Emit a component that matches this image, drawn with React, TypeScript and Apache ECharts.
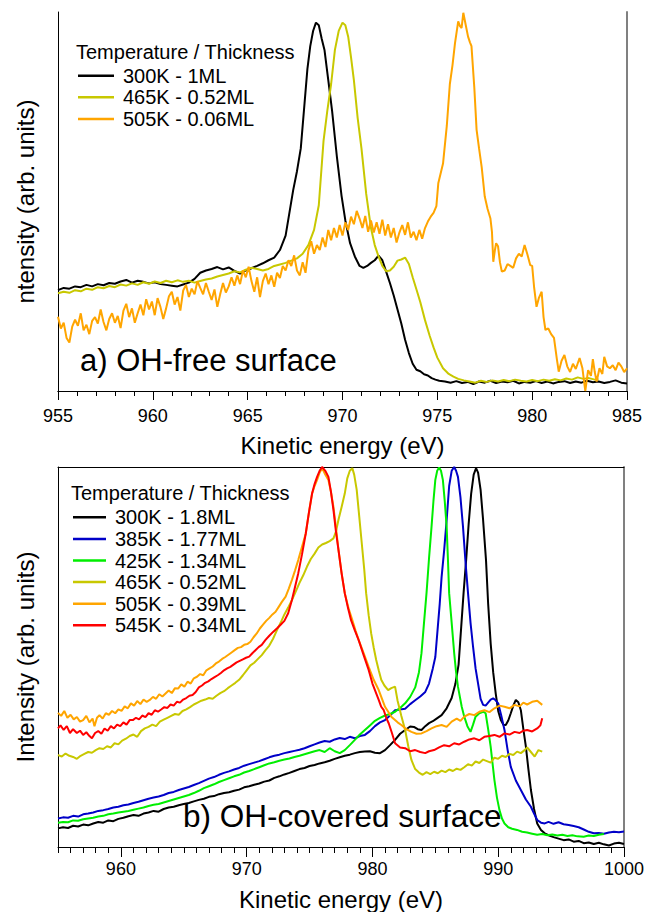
import React, { useEffect, useRef } from "react";
import * as echarts from "echarts";

// ---------- Panel a) OH-free surface ----------
const topTicks = [955, 960, 965, 970, 975, 980, 985];
const topNames = ["300K - 1ML", "465K - 0.52ML", "505K - 0.06ML"];

const a300: number[][] = [
  [955.0, 0.266], [955.3, 0.272], [955.6, 0.27], [955.9, 0.276], [956.2, 0.274], [956.5, 0.28], [956.8, 0.276],
  [957.1, 0.282], [957.4, 0.279], [957.7, 0.285], [958.0, 0.283], [958.3, 0.289], [958.6, 0.293], [958.9, 0.286],
  [959.2, 0.291], [959.5, 0.288], [959.8, 0.284], [960.1, 0.287], [960.4, 0.282], [960.7, 0.28], [961.0, 0.278],
  [961.3, 0.276], [961.6, 0.281], [961.9, 0.286], [962.2, 0.296], [962.5, 0.312], [962.8, 0.318], [963.1, 0.322],
  [963.4, 0.327], [963.7, 0.321], [964.0, 0.326], [964.3, 0.317], [964.6, 0.31], [964.9, 0.318], [965.2, 0.324],
  [965.5, 0.33], [965.8, 0.337], [966.1, 0.345], [966.4, 0.352], [966.7, 0.372], [967.0, 0.41], [967.2, 0.47],
  [967.4, 0.53], [967.6, 0.58], [967.8, 0.64], [968.0, 0.76], [968.15, 0.85], [968.3, 0.91], [968.45, 0.95],
  [968.6, 0.972], [968.75, 0.965], [968.9, 0.93], [969.05, 0.9], [969.25, 0.82], [969.45, 0.74], [969.7, 0.62],
  [969.95, 0.515], [970.15, 0.45], [970.4, 0.39], [970.65, 0.355], [970.9, 0.33], [971.1, 0.325], [971.3, 0.33],
  [971.5, 0.338], [971.7, 0.345], [971.9, 0.357], [972.1, 0.345], [972.3, 0.315], [972.5, 0.285], [972.7, 0.252],
  [972.9, 0.215], [973.1, 0.178], [973.3, 0.135], [973.5, 0.1], [973.7, 0.072], [973.9, 0.056], [974.1, 0.052],
  [974.3, 0.044], [974.5, 0.041], [974.7, 0.034], [974.9, 0.03], [975.1, 0.027], [975.4, 0.025], [975.7, 0.022],
  [976.0, 0.026], [976.3, 0.021], [976.6, 0.024], [976.9, 0.018], [977.2, 0.025], [977.5, 0.022], [977.8, 0.027],
  [978.1, 0.021], [978.4, 0.025], [978.7, 0.023], [979.0, 0.027], [979.3, 0.02], [979.6, 0.024], [979.9, 0.022],
  [980.2, 0.026], [980.5, 0.021], [980.8, 0.025], [981.1, 0.02], [981.4, 0.024], [981.7, 0.026], [982.0, 0.021],
  [982.3, 0.025], [982.6, 0.022], [982.9, 0.027], [983.2, 0.023], [983.5, 0.025], [983.8, 0.021], [984.1, 0.024],
  [984.4, 0.028], [984.7, 0.022], [985.0, 0.02]
];

const a465: number[][] = [
  [955.0, 0.258], [955.3, 0.262], [955.6, 0.259], [955.9, 0.266], [956.2, 0.263], [956.5, 0.27], [956.8, 0.267],
  [957.1, 0.274], [957.4, 0.271], [957.7, 0.277], [958.0, 0.274], [958.3, 0.281], [958.6, 0.278], [958.9, 0.284],
  [959.2, 0.28], [959.5, 0.287], [959.8, 0.283], [960.1, 0.289], [960.4, 0.285], [960.7, 0.291], [961.0, 0.287],
  [961.3, 0.292], [961.6, 0.288], [961.9, 0.291], [962.2, 0.286], [962.5, 0.29], [962.8, 0.294], [963.1, 0.297],
  [963.4, 0.302], [963.7, 0.306], [964.0, 0.31], [964.3, 0.316], [964.6, 0.313], [964.9, 0.32], [965.2, 0.325],
  [965.5, 0.322], [965.8, 0.318], [966.1, 0.322], [966.4, 0.33], [966.7, 0.334], [967.0, 0.338], [967.3, 0.344],
  [967.6, 0.35], [967.9, 0.362], [968.2, 0.385], [968.5, 0.425], [968.75, 0.49], [969.0, 0.66], [969.2, 0.74],
  [969.4, 0.81], [969.6, 0.9], [969.8, 0.95], [970.0, 0.972], [970.15, 0.965], [970.3, 0.935], [970.45, 0.88],
  [970.6, 0.82], [970.8, 0.72], [971.0, 0.64], [971.25, 0.52], [971.5, 0.43], [971.7, 0.385], [971.9, 0.355],
  [972.1, 0.33], [972.3, 0.316], [972.5, 0.318], [972.7, 0.328], [972.9, 0.344], [973.1, 0.347], [973.3, 0.352],
  [973.5, 0.335], [973.7, 0.3], [973.9, 0.268], [974.1, 0.235], [974.35, 0.187], [974.6, 0.145], [974.8, 0.115],
  [975.0, 0.088], [975.3, 0.06], [975.6, 0.045], [975.85, 0.038], [976.1, 0.032], [976.4, 0.028], [976.7, 0.025],
  [977.0, 0.022], [977.3, 0.027], [977.6, 0.024], [977.9, 0.028], [978.2, 0.025], [978.5, 0.029], [978.8, 0.026],
  [979.1, 0.03], [979.4, 0.027], [979.7, 0.025], [980.0, 0.029], [980.3, 0.026], [980.6, 0.03], [980.9, 0.027],
  [981.2, 0.031], [981.5, 0.028], [981.8, 0.033], [982.1, 0.03], [982.4, 0.036], [982.7, 0.032], [983.0, 0.034],
  [983.3, 0.03], [983.5, 0.031]
];

const a505: number[][] = [
  [955.0, 0.196], [955.15, 0.165], [955.3, 0.18], [955.45, 0.14], [955.6, 0.128], [955.75, 0.17], [955.9, 0.188],
  [956.05, 0.172], [956.2, 0.205], [956.35, 0.16], [956.5, 0.175], [956.65, 0.15], [956.8, 0.185], [956.95, 0.195],
  [957.1, 0.178], [957.25, 0.215], [957.4, 0.182], [957.55, 0.16], [957.7, 0.19], [957.85, 0.205], [958.0, 0.18],
  [958.15, 0.198], [958.3, 0.166], [958.45, 0.212], [958.6, 0.23], [958.75, 0.195], [958.9, 0.218], [959.05, 0.18],
  [959.2, 0.205], [959.35, 0.228], [959.5, 0.2], [959.65, 0.242], [959.8, 0.215], [959.95, 0.236], [960.1, 0.2],
  [960.25, 0.245], [960.4, 0.222], [960.55, 0.19], [960.7, 0.218], [960.85, 0.25], [961.0, 0.262], [961.15, 0.228],
  [961.3, 0.248], [961.45, 0.212], [961.6, 0.265], [961.75, 0.28], [961.9, 0.248], [962.05, 0.27], [962.2, 0.255],
  [962.35, 0.29], [962.5, 0.272], [962.65, 0.255], [962.8, 0.285], [962.95, 0.262], [963.1, 0.24], [963.25, 0.268],
  [963.4, 0.222], [963.55, 0.255], [963.7, 0.285], [963.85, 0.26], [964.0, 0.276], [964.15, 0.3], [964.3, 0.278],
  [964.45, 0.305], [964.6, 0.282], [964.75, 0.318], [964.9, 0.3], [965.05, 0.328], [965.2, 0.29], [965.35, 0.262],
  [965.5, 0.3], [965.65, 0.248], [965.8, 0.29], [965.95, 0.31], [966.1, 0.282], [966.25, 0.305], [966.4, 0.275],
  [966.55, 0.312], [966.7, 0.298], [966.85, 0.33], [967.0, 0.318], [967.15, 0.345], [967.3, 0.33], [967.45, 0.358],
  [967.6, 0.318], [967.75, 0.305], [967.9, 0.34], [968.05, 0.312], [968.2, 0.37], [968.35, 0.395], [968.5, 0.362],
  [968.65, 0.385], [968.8, 0.372], [968.95, 0.405], [969.1, 0.38], [969.25, 0.425], [969.4, 0.398], [969.55, 0.43],
  [969.7, 0.405], [969.85, 0.438], [970.0, 0.41], [970.15, 0.445], [970.3, 0.425], [970.45, 0.46], [970.6, 0.44],
  [970.75, 0.475], [970.9, 0.455], [971.05, 0.43], [971.2, 0.462], [971.35, 0.42], [971.5, 0.45], [971.65, 0.418],
  [971.8, 0.445], [971.95, 0.415], [972.1, 0.452], [972.25, 0.41], [972.4, 0.44], [972.55, 0.405], [972.7, 0.43],
  [972.85, 0.392], [973.0, 0.418], [973.15, 0.438], [973.3, 0.412], [973.45, 0.445], [973.6, 0.405], [973.75, 0.42],
  [973.9, 0.398], [974.05, 0.425], [974.2, 0.402], [974.35, 0.43], [974.5, 0.447], [974.65, 0.46], [974.8, 0.47],
  [974.95, 0.488], [975.05, 0.548], [975.3, 0.6], [975.5, 0.7], [975.66, 0.81], [975.8, 0.86], [975.93, 0.917],
  [976.1, 0.975], [976.2, 0.962], [976.28, 0.958], [976.37, 0.998], [976.5, 0.965], [976.62, 0.935], [976.72, 0.92],
  [976.8, 0.91], [976.95, 0.8], [977.07, 0.689], [977.2, 0.64], [977.34, 0.59], [977.5, 0.513], [977.65, 0.48],
  [977.8, 0.455], [977.88, 0.42], [977.95, 0.341], [978.03, 0.37], [978.1, 0.39], [978.2, 0.382], [978.3, 0.34],
  [978.4, 0.315], [978.55, 0.318], [978.7, 0.335], [978.85, 0.33], [979.0, 0.325], [979.15, 0.35], [979.3, 0.362],
  [979.45, 0.355], [979.6, 0.385], [979.75, 0.36], [979.9, 0.332], [980.0, 0.33], [980.1, 0.275], [980.23, 0.222],
  [980.35, 0.245], [980.5, 0.262], [980.6, 0.195], [980.7, 0.161], [980.85, 0.165], [981.0, 0.15], [981.15, 0.14],
  [981.3, 0.085], [981.4, 0.051], [981.55, 0.08], [981.7, 0.095], [981.85, 0.065], [982.0, 0.05], [982.15, 0.072],
  [982.3, 0.058], [982.5, 0.087], [982.65, 0.06], [982.8, 0.0], [982.95, 0.055], [983.1, 0.04], [983.2, 0.084],
  [983.3, 0.05], [983.4, 0.025], [983.55, 0.06], [983.7, 0.045], [983.8, 0.09], [983.95, 0.065], [984.1, 0.06],
  [984.25, 0.068], [984.4, 0.055], [984.55, 0.075], [984.7, 0.065], [984.85, 0.05], [985.0, 0.06]
];

// ---------- Panel b) OH-covered surface ----------
const bottomLabelTicks = [960, 970, 980, 990, 1000];
const bottomNames = ["300K - 1.8ML", "385K - 1.77ML", "425K - 1.34ML", "465K - 0.52ML", "505K - 0.39ML", "545K - 0.34ML"];

const b300: number[][] = [
  [955.0, 0.049], [955.4, 0.052], [955.8, 0.05], [956.2, 0.056], [956.6, 0.054], [957.0, 0.059], [957.4, 0.057],
  [957.8, 0.062], [958.2, 0.066], [958.6, 0.064], [959.0, 0.07], [959.4, 0.068], [959.8, 0.074], [960.2, 0.077],
  [960.6, 0.081], [961.0, 0.084], [961.4, 0.082], [961.8, 0.088], [962.2, 0.091], [962.6, 0.095], [963.0, 0.093],
  [963.4, 0.1], [963.8, 0.104], [964.2, 0.106], [964.6, 0.11], [965.0, 0.113], [965.4, 0.116], [965.8, 0.12],
  [966.2, 0.124], [966.6, 0.127], [967.0, 0.132], [967.4, 0.134], [967.8, 0.139], [968.2, 0.142], [968.6, 0.144],
  [969.0, 0.148], [969.4, 0.151], [969.8, 0.157], [970.2, 0.16], [970.6, 0.164], [971.0, 0.167], [971.4, 0.172],
  [971.8, 0.175], [972.2, 0.182], [972.6, 0.186], [973.0, 0.191], [973.4, 0.195], [973.8, 0.2], [974.2, 0.205],
  [974.6, 0.208], [975.0, 0.213], [975.4, 0.216], [975.8, 0.22], [976.2, 0.223], [976.6, 0.227], [977.0, 0.232],
  [977.4, 0.236], [977.8, 0.24], [978.2, 0.243], [978.6, 0.247], [979.0, 0.25], [979.4, 0.251], [979.8, 0.252],
  [980.2, 0.248], [980.6, 0.247], [981.0, 0.255], [981.4, 0.268], [981.8, 0.282], [982.2, 0.298], [982.6, 0.308],
  [983.0, 0.317], [983.3, 0.316], [983.6, 0.31], [983.9, 0.308], [984.2, 0.318], [984.5, 0.326], [984.8, 0.331],
  [985.1, 0.338], [985.5, 0.347], [985.9, 0.365], [986.3, 0.392], [986.6, 0.43], [986.85, 0.48], [987.06, 0.58],
  [987.25, 0.67], [987.45, 0.755], [987.65, 0.85], [987.85, 0.93], [988.05, 0.98], [988.24, 0.997], [988.4, 0.985],
  [988.6, 0.94], [988.8, 0.86], [989.03, 0.755], [989.2, 0.64], [989.4, 0.536], [989.6, 0.46], [989.8, 0.404],
  [990.0, 0.358], [990.2, 0.335], [990.4, 0.322], [990.6, 0.321], [990.8, 0.333], [991.0, 0.352], [991.2, 0.372],
  [991.4, 0.387], [991.6, 0.381], [991.8, 0.36], [992.0, 0.31], [992.2, 0.264], [992.4, 0.205], [992.6, 0.15],
  [992.85, 0.1], [993.1, 0.062], [993.4, 0.045], [993.7, 0.036], [994.0, 0.031], [994.4, 0.026], [994.8, 0.022],
  [995.2, 0.018], [995.6, 0.02], [996.0, 0.014], [996.4, 0.016], [996.8, 0.01], [997.2, 0.012], [997.6, 0.008],
  [998.0, 0.011], [998.4, 0.007], [998.8, 0.004], [999.2, 0.009], [999.6, 0.011], [1000.0, 0.008]
];

const b385: number[][] = [
  [955.0, 0.075], [955.4, 0.078], [955.8, 0.077], [956.2, 0.082], [956.6, 0.08], [957.0, 0.086], [957.4, 0.088],
  [957.8, 0.091], [958.2, 0.095], [958.6, 0.097], [959.0, 0.1], [959.4, 0.104], [959.8, 0.106], [960.2, 0.11],
  [960.6, 0.112], [961.0, 0.116], [961.4, 0.119], [961.8, 0.123], [962.2, 0.127], [962.6, 0.13], [963.0, 0.133],
  [963.4, 0.137], [963.8, 0.142], [964.2, 0.145], [964.6, 0.15], [965.0, 0.154], [965.4, 0.158], [965.8, 0.163],
  [966.2, 0.168], [966.6, 0.174], [967.0, 0.18], [967.4, 0.184], [967.8, 0.19], [968.2, 0.195], [968.6, 0.199],
  [969.0, 0.204], [969.4, 0.208], [969.8, 0.214], [970.2, 0.218], [970.6, 0.222], [971.0, 0.226], [971.4, 0.231],
  [971.8, 0.236], [972.2, 0.24], [972.6, 0.243], [973.0, 0.247], [973.4, 0.25], [973.8, 0.253], [974.2, 0.256],
  [974.6, 0.26], [975.0, 0.265], [975.4, 0.27], [975.8, 0.275], [976.2, 0.279], [976.6, 0.277], [977.0, 0.283],
  [977.4, 0.287], [977.8, 0.284], [978.2, 0.29], [978.6, 0.286], [979.0, 0.292], [979.4, 0.295], [979.8, 0.305],
  [980.2, 0.318], [980.6, 0.328], [981.0, 0.334], [981.4, 0.346], [981.8, 0.36], [982.2, 0.362], [982.6, 0.364],
  [983.0, 0.376], [983.4, 0.386], [983.8, 0.396], [984.2, 0.408], [984.5, 0.43], [984.8, 0.47], [985.0, 0.5],
  [985.2, 0.58], [985.35, 0.64], [985.5, 0.711], [985.7, 0.78], [985.9, 0.86], [986.1, 0.95], [986.3, 0.99],
  [986.5, 1.0], [986.65, 0.99], [986.8, 0.974], [987.0, 0.92], [987.2, 0.843], [987.4, 0.75], [987.6, 0.668],
  [987.8, 0.59], [988.0, 0.527], [988.2, 0.47], [988.4, 0.43], [988.6, 0.39], [988.8, 0.374], [989.0, 0.372],
  [989.2, 0.38], [989.4, 0.388], [989.6, 0.391], [989.8, 0.386], [990.0, 0.378], [990.25, 0.345], [990.5, 0.308],
  [990.75, 0.255], [991.0, 0.211], [991.4, 0.175], [991.8, 0.15], [992.2, 0.125], [992.6, 0.106], [992.85, 0.088],
  [993.1, 0.071], [993.4, 0.064], [993.7, 0.062], [994.0, 0.066], [994.4, 0.061], [994.8, 0.065], [995.2, 0.06],
  [995.6, 0.058], [996.0, 0.055], [996.4, 0.052], [996.8, 0.046], [997.2, 0.04], [997.6, 0.036], [998.0, 0.037],
  [998.4, 0.035], [998.8, 0.038], [999.2, 0.04], [999.6, 0.039], [1000.0, 0.041]
];

const b425: number[][] = [
  [955.0, 0.064], [955.4, 0.066], [955.8, 0.065], [956.2, 0.07], [956.6, 0.069], [957.0, 0.073], [957.4, 0.075],
  [957.8, 0.077], [958.2, 0.08], [958.6, 0.082], [959.0, 0.086], [959.4, 0.088], [959.8, 0.091], [960.2, 0.093],
  [960.6, 0.095], [961.0, 0.098], [961.4, 0.101], [961.8, 0.104], [962.2, 0.108], [962.6, 0.111], [963.0, 0.113],
  [963.4, 0.117], [963.8, 0.121], [964.2, 0.125], [964.6, 0.129], [965.0, 0.133], [965.4, 0.137], [965.8, 0.142],
  [966.2, 0.148], [966.6, 0.155], [967.0, 0.16], [967.4, 0.165], [967.8, 0.171], [968.2, 0.176], [968.6, 0.181],
  [969.0, 0.186], [969.4, 0.19], [969.8, 0.196], [970.2, 0.2], [970.6, 0.205], [971.0, 0.21], [971.4, 0.215],
  [971.8, 0.22], [972.2, 0.223], [972.6, 0.227], [973.0, 0.23], [973.4, 0.233], [973.8, 0.237], [974.2, 0.24],
  [974.6, 0.244], [975.0, 0.248], [975.4, 0.252], [975.8, 0.255], [976.2, 0.25], [976.6, 0.26], [977.0, 0.252],
  [977.4, 0.247], [977.8, 0.255], [978.2, 0.268], [978.6, 0.282], [979.0, 0.296], [979.4, 0.308], [979.8, 0.32],
  [980.2, 0.332], [980.6, 0.34], [981.0, 0.346], [981.4, 0.35], [981.8, 0.356], [982.2, 0.366], [982.6, 0.378],
  [983.0, 0.395], [983.4, 0.42], [983.7, 0.46], [983.9, 0.51], [984.1, 0.59], [984.3, 0.668], [984.5, 0.76],
  [984.7, 0.843], [984.85, 0.91], [985.0, 0.966], [985.15, 0.99], [985.3, 0.999], [985.45, 0.99], [985.6, 0.966],
  [985.75, 0.91], [985.9, 0.843], [986.0, 0.76], [986.1, 0.668], [986.3, 0.59], [986.5, 0.51], [986.65, 0.46],
  [986.8, 0.422], [987.1, 0.369], [987.3, 0.343], [987.55, 0.318], [987.8, 0.303], [988.0, 0.322], [988.2, 0.343],
  [988.5, 0.352], [988.8, 0.356], [989.0, 0.352], [989.2, 0.31], [989.4, 0.264], [989.55, 0.22], [989.7, 0.176],
  [989.9, 0.13], [990.1, 0.097], [990.3, 0.075], [990.5, 0.062], [990.8, 0.052], [991.1, 0.048], [991.5, 0.045],
  [991.9, 0.04], [992.3, 0.038], [992.7, 0.035], [993.1, 0.032], [993.5, 0.034], [993.9, 0.031], [994.3, 0.033],
  [994.7, 0.03], [995.1, 0.032], [995.5, 0.029], [995.9, 0.031], [996.3, 0.028], [996.8, 0.027], [997.2, 0.03],
  [997.6, 0.029], [998.0, 0.032], [998.4, 0.034]
];

const b465: number[][] = [
  [955.0, 0.242], [955.3, 0.238], [955.6, 0.246], [955.9, 0.24], [956.2, 0.237], [956.5, 0.232], [956.8, 0.24],
  [957.1, 0.245], [957.4, 0.25], [957.7, 0.248], [958.0, 0.255], [958.3, 0.26], [958.6, 0.258], [958.9, 0.265],
  [959.2, 0.262], [959.5, 0.273], [959.8, 0.27], [960.1, 0.28], [960.4, 0.285], [960.7, 0.292], [961.0, 0.296],
  [961.3, 0.29], [961.6, 0.305], [961.9, 0.312], [962.2, 0.316], [962.5, 0.322], [962.8, 0.318], [963.1, 0.33],
  [963.4, 0.335], [963.7, 0.34], [964.0, 0.345], [964.3, 0.35], [964.6, 0.348], [964.9, 0.358], [965.2, 0.362],
  [965.5, 0.368], [965.8, 0.375], [966.1, 0.38], [966.4, 0.385], [966.7, 0.388], [967.0, 0.392], [967.3, 0.39],
  [967.6, 0.398], [967.9, 0.405], [968.2, 0.41], [968.5, 0.418], [968.8, 0.425], [969.1, 0.432], [969.4, 0.44],
  [969.7, 0.452], [970.0, 0.465], [970.3, 0.478], [970.6, 0.485], [970.9, 0.495], [971.2, 0.505], [971.5, 0.518],
  [971.8, 0.53], [972.1, 0.548], [972.4, 0.57], [972.7, 0.59], [973.0, 0.612], [973.3, 0.63], [973.6, 0.65],
  [973.9, 0.672], [974.2, 0.695], [974.5, 0.715], [974.8, 0.738], [975.1, 0.758], [975.4, 0.772], [975.7, 0.788],
  [976.0, 0.796], [976.3, 0.8], [976.6, 0.805], [976.9, 0.812], [977.1, 0.83], [977.3, 0.861], [977.55, 0.895],
  [977.8, 0.93], [978.0, 0.97], [978.2, 0.99], [978.4, 0.997], [978.55, 0.98], [978.75, 0.94], [978.95, 0.87],
  [979.15, 0.8], [979.35, 0.73], [979.5, 0.668], [979.7, 0.61], [979.9, 0.562], [980.1, 0.525], [980.3, 0.492],
  [980.5, 0.465], [980.7, 0.44], [980.95, 0.425], [981.25, 0.413], [981.5, 0.418], [981.8, 0.422], [982.0, 0.385],
  [982.3, 0.345], [982.6, 0.308], [982.85, 0.265], [983.1, 0.229], [983.4, 0.205], [983.7, 0.196], [984.0, 0.19],
  [984.3, 0.197], [984.6, 0.192], [984.9, 0.198], [985.2, 0.194], [985.5, 0.201], [985.8, 0.197], [986.1, 0.204],
  [986.4, 0.2], [986.7, 0.206], [987.0, 0.203], [987.3, 0.21], [987.6, 0.218], [987.9, 0.214], [988.2, 0.225],
  [988.5, 0.221], [988.8, 0.23], [989.1, 0.226], [989.4, 0.222], [989.7, 0.235], [990.0, 0.232], [990.3, 0.24],
  [990.6, 0.237], [990.9, 0.245], [991.2, 0.242], [991.5, 0.251], [991.8, 0.247], [992.1, 0.255], [992.3, 0.262],
  [992.6, 0.25], [992.9, 0.238], [993.2, 0.255], [993.5, 0.251]
];

const b505: number[][] = [
  [955.0, 0.353], [955.25, 0.345], [955.5, 0.358], [955.75, 0.34], [956.0, 0.348], [956.25, 0.336], [956.5, 0.342],
  [956.75, 0.33], [957.0, 0.334], [957.25, 0.345], [957.5, 0.328], [957.75, 0.338], [957.9, 0.318], [958.1, 0.34],
  [958.3, 0.347], [958.55, 0.338], [958.8, 0.352], [959.05, 0.348], [959.3, 0.358], [959.55, 0.352], [959.8, 0.362],
  [960.05, 0.358], [960.3, 0.37], [960.55, 0.365], [960.8, 0.378], [961.05, 0.372], [961.3, 0.384], [961.55, 0.376],
  [961.8, 0.388], [962.05, 0.382], [962.3, 0.387], [962.55, 0.395], [962.8, 0.39], [963.05, 0.402], [963.3, 0.396],
  [963.55, 0.404], [963.8, 0.412], [964.05, 0.405], [964.3, 0.418], [964.55, 0.417], [964.8, 0.428], [965.05, 0.422],
  [965.3, 0.435], [965.55, 0.43], [965.8, 0.444], [966.05, 0.448], [966.3, 0.455], [966.55, 0.452], [966.8, 0.465],
  [967.05, 0.47], [967.3, 0.475], [967.55, 0.483], [967.8, 0.488], [968.05, 0.495], [968.3, 0.5], [968.55, 0.506],
  [968.8, 0.512], [969.05, 0.518], [969.3, 0.524], [969.55, 0.526], [969.8, 0.532], [970.05, 0.534], [970.3, 0.54],
  [970.55, 0.552], [970.8, 0.562], [971.05, 0.575], [971.3, 0.585], [971.55, 0.595], [971.8, 0.603], [972.05, 0.612],
  [972.3, 0.619], [972.55, 0.632], [972.8, 0.645], [973.1, 0.659], [973.35, 0.68], [973.6, 0.703], [973.85, 0.728],
  [974.1, 0.755], [974.4, 0.79], [974.7, 0.825], [974.95, 0.88], [975.2, 0.93], [975.4, 0.95], [975.6, 0.966],
  [975.8, 0.985], [976.0, 0.997], [976.25, 0.98], [976.5, 0.966], [976.7, 0.935], [976.9, 0.895], [977.1, 0.84],
  [977.3, 0.782], [977.55, 0.72], [977.8, 0.668], [978.1, 0.628], [978.4, 0.597], [978.65, 0.57], [978.9, 0.545],
  [979.3, 0.51], [979.7, 0.474], [980.1, 0.44], [980.5, 0.413], [981.0, 0.369], [981.5, 0.343], [982.0, 0.328],
  [982.3, 0.321], [982.7, 0.31], [983.1, 0.303], [983.5, 0.298], [983.9, 0.299], [984.3, 0.305], [984.7, 0.312],
  [985.1, 0.318], [985.5, 0.321], [985.9, 0.316], [986.3, 0.33], [986.7, 0.338], [987.0, 0.332], [987.3, 0.343],
  [987.7, 0.35], [988.1, 0.347], [988.5, 0.356], [988.9, 0.36], [989.3, 0.355], [989.7, 0.365], [990.1, 0.372],
  [990.5, 0.369], [990.9, 0.365], [991.3, 0.374], [991.7, 0.37], [992.0, 0.38], [992.3, 0.375], [992.7, 0.382],
  [993.1, 0.385], [993.5, 0.374]
];

const b545: number[][] = [
  [955.0, 0.312], [955.2, 0.32], [955.45, 0.308], [955.7, 0.318], [955.95, 0.3], [956.2, 0.31], [956.5, 0.3],
  [956.75, 0.306], [957.0, 0.295], [957.25, 0.302], [957.5, 0.292], [957.7, 0.286], [957.95, 0.3], [958.2, 0.305],
  [958.45, 0.298], [958.7, 0.312], [958.95, 0.306], [959.2, 0.318], [959.45, 0.312], [959.7, 0.322], [959.95, 0.318],
  [960.2, 0.328], [960.45, 0.322], [960.7, 0.334], [960.95, 0.334], [961.2, 0.34], [961.45, 0.336], [961.7, 0.346],
  [961.95, 0.342], [962.2, 0.352], [962.45, 0.348], [962.7, 0.36], [962.95, 0.356], [963.2, 0.362], [963.45, 0.368],
  [963.7, 0.366], [963.95, 0.375], [964.2, 0.372], [964.45, 0.382], [964.7, 0.38], [964.95, 0.388], [965.2, 0.392],
  [965.45, 0.398], [965.7, 0.4], [965.95, 0.408], [966.2, 0.42], [966.45, 0.425], [966.7, 0.432], [966.95, 0.436],
  [967.2, 0.442], [967.45, 0.447], [967.7, 0.452], [967.95, 0.458], [968.2, 0.465], [968.45, 0.47], [968.7, 0.474],
  [968.95, 0.48], [969.2, 0.486], [969.45, 0.49], [969.7, 0.494], [969.95, 0.498], [970.2, 0.501], [970.45, 0.51],
  [970.7, 0.518], [970.95, 0.526], [971.2, 0.532], [971.5, 0.545], [971.8, 0.556], [972.1, 0.566], [972.4, 0.575],
  [972.7, 0.585], [973.0, 0.595], [973.3, 0.615], [973.6, 0.65], [973.85, 0.685], [974.1, 0.72], [974.4, 0.77],
  [974.7, 0.825], [974.95, 0.88], [975.2, 0.93], [975.4, 0.955], [975.6, 0.974], [975.8, 0.99], [976.0, 1.0],
  [976.25, 0.99], [976.5, 0.974], [976.7, 0.935], [976.9, 0.887], [977.1, 0.83], [977.3, 0.782], [977.55, 0.72],
  [977.8, 0.668], [978.05, 0.63], [978.3, 0.597], [978.6, 0.57], [978.9, 0.545], [979.3, 0.505], [979.7, 0.466],
  [980.0, 0.43], [980.2, 0.413], [980.5, 0.387], [980.7, 0.369], [980.9, 0.36], [981.1, 0.34], [981.3, 0.325],
  [981.55, 0.3], [981.8, 0.273], [982.2, 0.262], [982.6, 0.26], [983.0, 0.252], [983.4, 0.255], [983.8, 0.25],
  [984.2, 0.247], [984.5, 0.252], [984.9, 0.255], [985.3, 0.262], [985.7, 0.268], [986.1, 0.265], [986.5, 0.273],
  [986.9, 0.27], [987.3, 0.277], [987.7, 0.283], [988.1, 0.286], [988.5, 0.281], [988.9, 0.29], [989.3, 0.292],
  [989.7, 0.295], [990.1, 0.29], [990.5, 0.299], [990.9, 0.296], [991.3, 0.303], [991.7, 0.3], [992.0, 0.306],
  [992.3, 0.308], [992.7, 0.304], [993.1, 0.312], [993.35, 0.32], [993.5, 0.339]
];

const topSeriesData = [a300, a465, a505];
const topColors = ["#000000", "#c8c800", "#ffa500"];
const bottomSeriesData = [b300, b385, b425, b465, b505, b545];
const bottomColors = ["#000000", "#0000c8", "#00ee00", "#c8c800", "#ffa500", "#ff0000"];

const FONT = "'Liberation Sans', Arial, Helvetica, sans-serif";

export default function App() {
  const ref = useRef<HTMLDivElement>(null);

  useEffect(() => {
    if (!ref.current) return;
    const chart = echarts.init(ref.current, undefined, { renderer: "svg" });

    const series: any[] = [];
    topSeriesData.forEach((d, i) => {
      series.push({
        name: topNames[i], type: "line", xAxisIndex: 0, yAxisIndex: 0, data: d,
        symbol: "none", showSymbol: false, clip: true,
        lineStyle: { color: topColors[i], width: 2 }, itemStyle: { color: topColors[i] },
      });
    });
    bottomSeriesData.forEach((d, i) => {
      series.push({
        name: bottomNames[i], type: "line", xAxisIndex: 2, yAxisIndex: 2, data: d,
        symbol: "none", showSymbol: false, clip: true,
        lineStyle: { color: bottomColors[i], width: 2 }, itemStyle: { color: bottomColors[i] },
      });
    });

    const blackLine = { show: true, lineStyle: { color: "#000", width: 1 } };
    const hidden = { show: false };
    const plain = (v: number) => String(v);

    const legendCommon = {
      orient: "vertical",
      icon: "rect",
      itemHeight: 2.5,
      itemGap: 1.6,
      padding: 0,
      selectedMode: false,
      textStyle: { fontSize: 20, fontFamily: FONT, color: "#000", lineHeight: 20, padding: [0, 0, 0, 4] },
    };

    chart.setOption({
      animation: false,
      backgroundColor: "#fff",
      textStyle: { fontFamily: FONT },
      grid: [
        { left: 58, top: 12, width: 569, height: 379 },
        { left: 58, top: 467, width: 569, height: 380 },
      ],
      legend: [
        { ...legendCommon, left: 78, top: 65.7, itemWidth: 36, data: topNames },
        { ...legendCommon, left: 73, top: 507.3, itemWidth: 33, data: bottomNames },
      ],
      xAxis: [
        {
          type: "value", gridIndex: 0, position: "bottom", min: 955, max: 985, interval: 5,
          axisLine: blackLine,
          axisTick: { show: true, inside: false, length: 9, lineStyle: { color: "#000" } },
          minorTick: { show: true, splitNumber: 5, length: 5, lineStyle: { color: "#000" } },
          axisLabel: { show: true, margin: 16, fontSize: 18, color: "#000", fontFamily: FONT, formatter: plain },
          splitLine: hidden, minorSplitLine: hidden,
          name: "Kinetic energy (eV)", nameLocation: "middle", nameGap: 42,
          nameTextStyle: { fontSize: 24, color: "#000", fontFamily: FONT },
        },
        {
          type: "value", gridIndex: 0, position: "top", min: 955, max: 985,
          axisLine: blackLine, axisTick: hidden, axisLabel: hidden, splitLine: hidden,
        },
        {
          type: "value", gridIndex: 1, position: "bottom", min: 955, max: 1000, interval: 1,
          axisLine: blackLine,
          axisTick: { show: true, inside: false, length: 6, lineStyle: { color: "#000" } },
          axisLabel: hidden, splitLine: hidden,
          name: "Kinetic energy (eV)", nameLocation: "middle", nameGap: 40,
          nameTextStyle: { fontSize: 24, color: "#000", fontFamily: FONT },
        },
        {
          type: "value", gridIndex: 1, position: "bottom", offset: 0, min: 955, max: 1000,
          axisLine: { show: false },
          axisTick: { show: true, inside: false, length: 10, customValues: bottomLabelTicks, lineStyle: { color: "#000" } },
          axisLabel: {
            show: true, margin: 13, fontSize: 18, color: "#000", fontFamily: FONT,
            customValues: bottomLabelTicks, formatter: plain,
          },
          splitLine: hidden,
        },
        {
          type: "value", gridIndex: 1, position: "top", min: 955, max: 1000,
          axisLine: blackLine, axisTick: hidden, axisLabel: hidden, splitLine: hidden,
        },
      ],
      yAxis: [
        {
          type: "value", gridIndex: 0, position: "left", min: 0, max: 1,
          axisLine: blackLine, axisTick: hidden, axisLabel: hidden, splitLine: hidden,
          name: "ntensity (arb. units)", nameLocation: "middle", nameGap: 21,
          nameTextStyle: { fontSize: 24, color: "#000", fontFamily: FONT },
        },
        {
          type: "value", gridIndex: 0, position: "right", min: 0, max: 1,
          axisLine: { show: true, lineStyle: { color: "#808080", width: 2 } },
          axisTick: hidden, axisLabel: hidden, splitLine: hidden,
        },
        {
          type: "value", gridIndex: 1, position: "left", min: 0, max: 1,
          axisLine: blackLine, axisTick: hidden, axisLabel: hidden, splitLine: hidden,
          name: "Intensity (arb. units)", nameLocation: "middle", nameGap: 21,
          nameTextStyle: { fontSize: 24, color: "#000", fontFamily: FONT },
        },
        {
          type: "value", gridIndex: 1, position: "right", min: 0, max: 1,
          axisLine: { show: true, lineStyle: { color: "#808080", width: 2 } },
          axisTick: hidden, axisLabel: hidden, splitLine: hidden,
        },
      ],
      graphic: [
        {
          type: "text", x: 76, y: 52, silent: true,
          style: { text: "Temperature / Thickness", fontSize: 20, fontFamily: FONT, fill: "#000", verticalAlign: "middle" },
        },
        {
          type: "text", x: 71, y: 493, silent: true,
          style: { text: "Temperature / Thickness", fontSize: 20, fontFamily: FONT, fill: "#000", verticalAlign: "middle" },
        },
        {
          type: "text", x: 80, y: 360, silent: true,
          style: { text: "a) OH-free surface", fontSize: 31, fontFamily: FONT, fill: "#000", verticalAlign: "middle" },
        },
        {
          type: "text", x: 183, y: 816, silent: true,
          style: { text: "b) OH-covered surface", fontSize: 31.5, fontFamily: FONT, fill: "#000", verticalAlign: "middle" },
        },
      ],
      series,
    });

    return () => chart.dispose();
  }, []);

  return (
    <div
      ref={ref}
      style={{ position: "absolute", left: 0, top: 0, width: 647, height: 912, background: "#fff" }}
    />
  );
}
